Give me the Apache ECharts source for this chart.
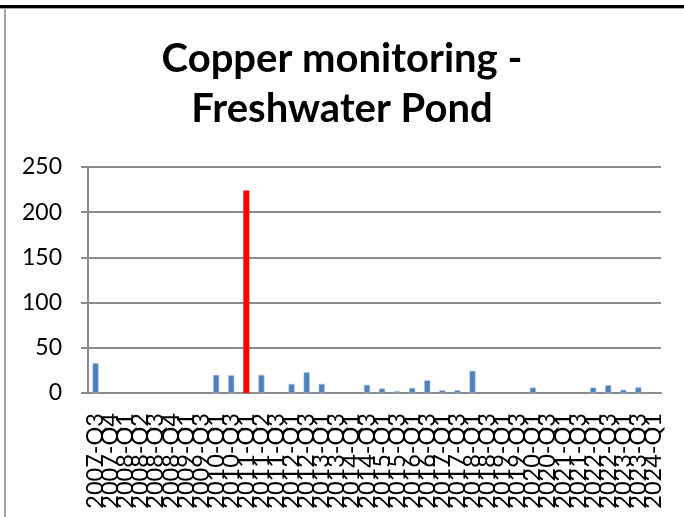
<!DOCTYPE html>
<html>
<head>
<meta charset="utf-8">
<title>Copper monitoring - Freshwater Pond</title>
<script src="https://cdn.jsdelivr.net/npm/echarts@6/dist/echarts.min.js"></script>
<style>
  html, body { margin: 0; padding: 0; background: #fff; }
  #chart { width: 684px; height: 517px; }
</style>
</head>
<body>
<div id="chart"></div>
<script>
  // sampling quarters
  const quarters = [
    '2007-Q3', '2007-Q4', '2008-Q1', '2008-Q2', '2008-Q3', '2008-Q4', '2009-Q1', '2009-Q3',
    '2010-Q1', '2010-Q3', '2011-Q1', '2011-Q2', '2011-Q3', '2012-Q1', '2012-Q3', '2013-Q1',
    '2013-Q3', '2014-Q1', '2014-Q3', '2015-Q1', '2015-Q3', '2016-Q1', '2016-Q3', '2017-Q1',
    '2017-Q3', '2018-Q1', '2018-Q3', '2019-Q1', '2019-Q3', '2020-Q1', '2020-Q3', '2021-Q1',
    '2021-Q3', '2022-Q1', '2022-Q3', '2023-Q1', '2023-Q3', '2024-Q1'
  ]
  // copper values (null = no bar)
  const copper = [
    33, null, null, null, null, null, null, null,
    20, 19.5, 224, 20, null, 10, 23, 10,
    null, null, 9, 5, 2, 5.5, 14, 3,
    3, 24.5, null, null, null, 6, null, null,
    null, 6, 8.5, 3.5, 6.3, null
  ]
  const peakIndex = 10 // exceedance shown in red
  const yTicks = [0, 50, 100, 150, 200, 250]

  const blue = '#4F81BD'
  const red = '#FF0000'
  const gridGray = '#8C8C8C'
  const font = 'Lato, "Liberation Sans", sans-serif'

  const chart = echarts.init(document.getElementById('chart'))

  chart.setOption({
    animation: false,
    title: {
      text: 'Copper monitoring -\nFreshwater Pond',
      left: 'center',
      top: 29,
      textStyle: {
        fontFamily: font,
        fontWeight: 'bold',
        fontSize: 40,
        lineHeight: 50,
        color: '#000'
      }
    },
    grid: {
      left: 88,
      right: 23,
      top: 167,
      bottom: 124
    },
    xAxis: {
      type: 'category',
      data: quarters,
      axisLine: { lineStyle: { color: gridGray, width: 2 } },
      axisTick: { length: 7, lineStyle: { color: gridGray, width: 2 } },
      axisLabel: {
        interval: 0,
        rotate: 90,
        margin: 20,
        fontFamily: font,
        fontSize: 23.5,
        color: '#000'
      }
    },
    yAxis: {
      type: 'value',
      min: yTicks[0],
      max: yTicks[yTicks.length - 1],
      interval: 50,
      axisLine: { show: true, lineStyle: { color: gridGray, width: 2 } },
      axisTick: { show: true, length: 7, lineStyle: { color: gridGray, width: 2 } },
      splitLine: { lineStyle: { color: gridGray, width: 2 } },
      axisLabel: {
        margin: 26,
        fontFamily: font,
        fontSize: 23,
        color: '#000'
      }
    },
    series: [
      {
        type: 'bar',
        barWidth: 6,
        data: copper.map((v, i) => i === peakIndex
          ? { value: v, itemStyle: { color: red, borderWidth: 0 } }
          : v),
        itemStyle: {
          color: blue,
          borderColor: '#9DBBE0',
          borderWidth: 0.6
        }
      }
    ],
    graphic: [
      // chart frame: black top band and grey left edge
      { type: 'rect', shape: { x: 0, y: 5, width: 684, height: 3 }, style: { fill: '#000' }, silent: true },
      { type: 'line', shape: { x1: 0, y1: 8.5, x2: 684, y2: 8.5 }, style: { stroke: '#A6A6A6', lineWidth: 1 }, silent: true },
      { type: 'line', shape: { x1: 5, y1: 8, x2: 5, y2: 517 }, style: { stroke: '#A6A6A6', lineWidth: 2 }, silent: true }
    ]
  })
</script>
</body>
</html>
